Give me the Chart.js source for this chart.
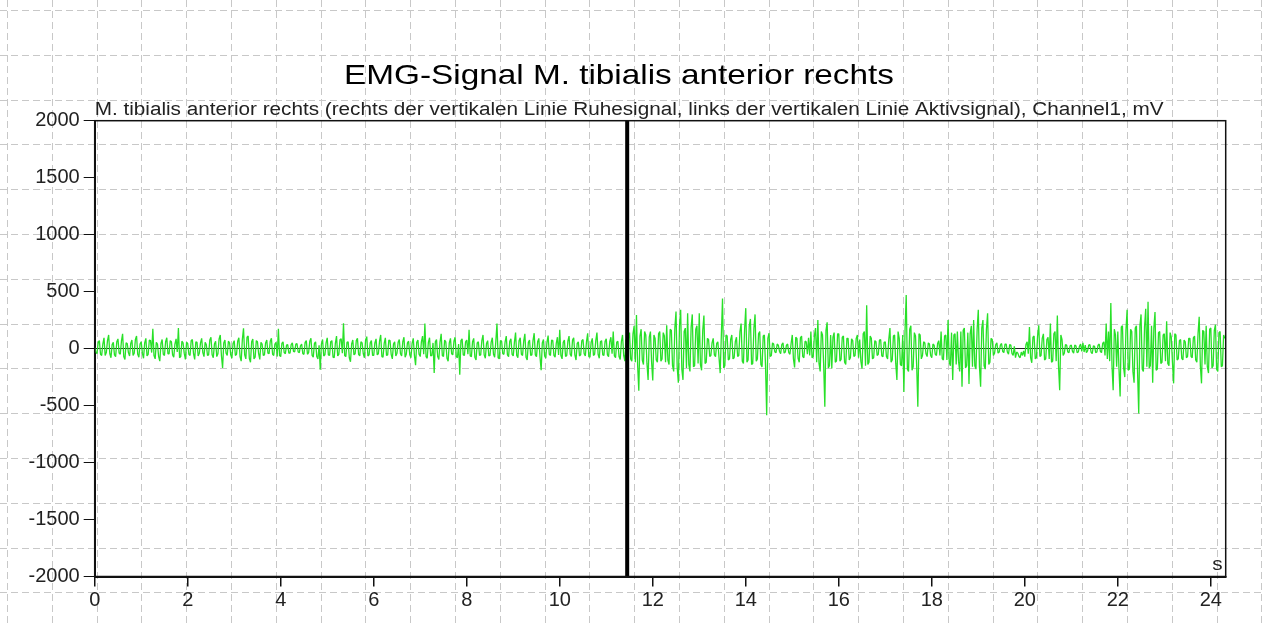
<!DOCTYPE html>
<html lang="de">
<head>
<meta charset="utf-8">
<title>EMG-Signal M. tibialis anterior rechts</title>
<script src="https://cdn.jsdelivr.net/npm/chart.js@4.4.1/dist/chart.umd.min.js"></script>
<style>
  html, body { margin: 0; padding: 0; background: #fff; }
  #wrap { width: 1264px; height: 624px; }
</style>
</head>
<body>
<div id="wrap"><canvas id="emgChart" width="1264" height="624"></canvas></div>
<script>
// Texte
const chartTitle = 'EMG-Signal M. tibialis anterior rechts';
const chartSubtitle = 'M. tibialis anterior rechts (rechts der vertikalen Linie Ruhesignal, links der vertikalen Linie Aktivsignal), Channel1, mV';
const xUnit = 's';

// Achsen
const timeMax = 24.32;
const splitTime = 11.45; // vertikale Linie
const xTicks = [0, 2, 4, 6, 8, 10, 12, 14, 16, 18, 20, 22, 24];
const yTicks = [-2000, -1500, -1000, -500, 0, 500, 1000, 1500, 2000];

const sampleStep = 0.025;
const emgValues = [
    // 0 s
    10,-30, -45,55, 70,-50, -60,40, 95,-60, -35,70, 120,-45, -80,35, 55,-55, -70,60, 85,-40, -50,65, 130,-70, -95,50, 45,-35, -65,45, 75,-60, -40,80, 110,-50, -75,40,
    // 1 s
    60,-40, -85,50, 90,-65, -50,75, 70,-35, 175,-60, -90,55, 40,-70, -110,45, 80,-50, -60,60, 95,-45, -45,70, 60,-55, -75,40, 85,-30, 180,-80, -70,65, 50,-40, -95,55,
    // 2 s
    45,-50, -60,70, 80,-45, -95,60, 55,-65, -40,50, 90,-35, -70,55, 35,-60, -55,75, 100,-55, -80,40, 65,-70, -45,85, 120,-60, -170,50, 75,-40, -60,65, 50,-55, -85,45,
    // 3 s
    70,-60, -50,65, 95,-70, -110,80, 178,-55, -90,100, 110,-85, -120,60, 85,-90, -75,70, 60,-45, -95,55, 40,-60, -55,50, 75,-40, -45,65, 90,-50, -60,40, 55,-70, 175,-60,
    // 4 s
    -70,45, 60,-35, -45,30, 35,-40, -40,35, 50,-25, -30,40, 45,-30, -35,25, 40,-45, -50,55, 70,-50, -35,65, 90,-60, -75,45, 60,-70, -90,30, -185,40, 80,-65, -55,50,
    // 5 s
    95,-55, -60,60, 70,-75, -80,45, 110,-65, -50,80, 85,-40, 222,-60, -70,55, 60,-80, -115,40, 75,-55, -45,70, 90,-50, -65,60, 50,-45, -80,75, 105,-65, -55,50, 70,-60,
    // 6 s
    -60,50, 85,-55, -45,65, 120,-70, -75,45, 95,-60, -55,75, 70,-50, -90,40, 60,-65, -40,55, 80,-45, -65,60, 100,-75, -50,50, 65,-55, -80,45, 90,-60, -145,55, 75,-50,
    // 7 s
    -70,60, 110,-50, 220,-70, -85,55, 95,-65, -60,50, -215,60, 80,-70, -95,55, 130,-60, -70,75, 60,-85, -110,50, 90,-45, -55,65, 100,-70, -80,40, -230,70, 85,-55, -60,60,
    // 8 s
    75,-50, 165,-65, -70,60, 90,-75, -100,50, 60,-60, -55,70, 120,-55, -85,45, 70,-65, -60,55, 95,-50, -75,60, 220,-80, -90,70, 65,-45, -50,60, 110,-55, -70,65, 85,-50,
    // 9 s
    -65,55, 140,-60, -80,70, 95,-50, -60,65, 130,-75, -100,55, 75,-60, -55,70, 135,-55, -70,60, 90,-70, -190,50, 80,-65, -85,55, 115,-50, -60,75, 70,-60, -75,45, 100,-55,
    // 10 s
    165,-60, -90,55, 75,-70, -60,65, 110,-50, -70,75, 95,-55, -100,45, 60,-65, -55,70, 80,-45, -65,60, 135,-70, -75,55, 90,-60, -50,70, 140,-50, -85,60, 70,-55, -60,65,
    // 11 s
    85,-55, -70,60, 100,-45, 150,-65, -80,55, 65,-70, -95,60, 120,-60, -110,80, -360,90, 140,-90, -110,130, 200,-120, 295,-150, -370,110, 170,-100, -140,150, 120,-130, -275,100, 150,-120,
    // 12 s
    -280,120, 90,-100, -120,130, 150,-110, -90,140, 110,-120, 205,-100, -140,170, 160,-150, -200,180, 325,-160, -300,200, 340,-180, -275,150, 180,-170, 310,-140, -200,190, 300,-160, -150,170, 200,-130,
    // 13 s
    310,-140, -190,160, 290,-130, -120,90, 80,-70, -60,50, 90,-55, -70,45, 60,-80, -215,120, 440,-170, -150,120, 110,-100, -90,80, 120,-90, -80,60, 100,-70, -60,150, 220,-110, -130,170,
    // 14 s
    355,-120, -100,200, 260,-140, -130,180, 300,-110, -90,130, 150,-140, -160,110, 120,-150, -585,90, 135,-70, -60,50, 40,-30, -35,40, 30,-25, -45,35, 50,-40, -30,30, 40,-35, -50,45,
    // 15 s
    120,-90, -165,100, 90,-85, -120,95, 110,-70, -80,65, 60,-50, 95,-60, 150,-80, -70,110, 180,-120, 250,-130, -200,150, 120,-140, -510,160, 230,-170, -150,120, -175,100, 140,-120, -110,130,
    // 16 s
    130,-110, -95,100, 110,-120, -140,90, 90,-100, -80,85, 70,-70, -60,90, 120,-80, 80,-110, -175,130, 150,-150, 380,-140, -120,110, 90,-90, -80,70, 60,-60, -50,75, 80,-65, -70,55,
    // 17 s
    60,-70, -90,80, 180,-120, -100,110, 120,-130, -275,150, 90,-140, -150,120, -380,160, 470,-180, -200,170, 200,-190, -160,140, 110,-150, -510,130, 120,-90, -60,60, 50,-45, -70,50, 40,-60,
    // 18 s
    -80,40, 30,-50, -60,45, 70,-60, 150,-90, -100,110, 120,-100, 250,-120, -150,140, -275,120, 130,-140, 150,-110, -200,150, -335,160, 180,-170, -150,140, -310,130, 200,-160, 250,-150, -180,170,
    // 19 s
    340,-160, -335,180, 250,-150, -180,170, 310,-140, -120,90, 80,-60, -40,35, 50,-40, -30,30, 45,-25, -35,40, 40,-30, -50,35, 30,-45, -60,20, -80,-30, -40,-70, -80,-30, -60,-20,
    // 20 s
    -70,35, 60,-45, 190,-80, -125,100, 110,-90, -80,110, 205,-70, -60,90, 130,-100, -90,80, 100,-90, 220,-120, -110,130, 150,-110, 290,-150, -365,120, 80,-60, -40,35, 30,-30, -35,25,
    // 21 s
    30,-25, -40,30, 25,-35, -30,20, 40,-25, 50,-30, 30,-35, -20,30, 35,-30, -45,25, 20,-35, -30,30, 40,-25, -35,45, 60,-60, 220,-90, 150,-110, 400,-150, -365,170, 120,-160,
    // 22 s
    150,-180, -420,190, 200,-170, -250,160, 340,-190, -180,170, 150,-200, -300,180, 200,-210, -570,200, 300,-180, -200,190, 350,-160, 410,-170, -150,200, -300,180, 320,-190, -180,140, 150,-130, -120,120,
    // 23 s
    130,-110, 240,-130, -150,140, 100,-120, -305,130, 120,-100, -90,70, 80,-85, -100,75, 60,-80, -70,90, 90,-70, -80,95, 110,-100, -120,130, 280,-150, -305,160, 150,-140, 200,-160, -215,170,
    // 24 s
    180,-170, -150,160, 210,-180, -200,140, 150,-160, -150,120, 90
];

const fontFamily = 'Arial, "Liberation Sans", sans-serif';
const signalColor = 'rgb(40, 224, 40)';

// Punkte (Zeit, Wert) fuer die lineare x-Achse
const emgPoints = emgValues.map((v, i) => ({ x: i * sampleStep, y: v }));

// Text horizontal etwas breiter zeichnen (Vorlage ist gestreckt)
function drawWideText(ctx, text, x, y, stretch, align) {
    ctx.save();
    ctx.translate(x, y);
    ctx.scale(stretch, 1);
    ctx.textAlign = align;
    ctx.fillText(text, 0, 0);
    ctx.restore();
}

// Hintergrundraster, Rahmen und Beschriftungen
const paperPlugin = {
    id: 'paper',
    beforeDraw(chart) {
        const { ctx, width, height } = chart;
        ctx.save();
        ctx.fillStyle = '#fff';
        ctx.fillRect(0, 0, width, height);
        ctx.strokeStyle = '#c8c8c8';
        ctx.lineWidth = 1;
        ctx.setLineDash([7, 4]);
        ctx.beginPath();
        for (let x = 7; x < width; x += 44.8) {
            const px = Math.round(x) + 0.5;
            ctx.moveTo(px, 0);
            ctx.lineTo(px, height);
        }
        for (let y = 10; y < height; y += 44.8) {
            const py = Math.round(y) + 0.5;
            ctx.moveTo(0, py);
            ctx.lineTo(width, py);
        }
        ctx.stroke();
        ctx.restore();
    },
    afterDraw(chart) {
        const { ctx, chartArea: a } = chart;
        ctx.save();
        ctx.strokeStyle = '#111';
        ctx.lineWidth = 1.5;
        ctx.strokeRect(a.left, a.top, a.right - a.left, a.bottom - a.top);

        ctx.textBaseline = 'alphabetic';
        ctx.fillStyle = '#000';
        ctx.font = `28px ${fontFamily}`;
        drawWideText(ctx, chartTitle, 619, 84, 1.19, 'center');

        ctx.fillStyle = '#222';
        ctx.font = `18px ${fontFamily}`;
        drawWideText(ctx, chartSubtitle, a.left, a.top - 6, 1.15, 'left');
        drawWideText(ctx, xUnit, a.right - 3, a.bottom - 7, 1.15, 'right');
        ctx.restore();
    }
};

const tickFont = { family: fontFamily, size: 20 };

new Chart(document.getElementById('emgChart'), {
    type: 'line',
    data: {
        datasets: [
            {
                label: 'Grenze',
                data: [{ x: splitTime, y: -2000 }, { x: splitTime, y: 2000 }],
                borderColor: '#000',
                borderWidth: 4,
                pointRadius: 0,
                order: 0
            },
            {
                label: 'Channel1',
                data: emgPoints,
                borderColor: signalColor,
                borderWidth: 1.3,
                borderJoinStyle: 'bevel',
                pointRadius: 0,
                tension: 0,
                order: 1
            }
        ]
    },
    options: {
        responsive: false,
        animation: false,
        events: [],
        layout: { padding: { left: 0, top: 120.7, right: 38.3, bottom: 0 } },
        plugins: {
            legend: { display: false },
            tooltip: { enabled: false },
            title: { display: false }
        },
        scales: {
            x: {
                type: 'linear',
                min: 0,
                max: timeMax,
                afterFit(scale) { scale.height = 47.5; },
                afterBuildTicks(scale) { scale.ticks = xTicks.map(v => ({ value: v })); },
                ticks: { font: tickFont, color: '#222', padding: 2, maxRotation: 0, autoSkip: false, callback: v => String(v) },
                grid: { drawOnChartArea: false, drawTicks: true, tickLength: 10, color: '#111', lineWidth: 1.5 },
                border: { display: true, color: '#111', width: 2 }
            },
            y: {
                min: -2000,
                max: 2000,
                afterFit(scale) { scale.width = 94.7; },
                afterBuildTicks(scale) { scale.ticks = yTicks.map(v => ({ value: v })); },
                ticks: { font: tickFont, color: '#222', padding: 4, autoSkip: false, callback: v => String(v) },
                grid: {
                    color: ctx => (ctx.tick && ctx.tick.value === 0) ? '#222' : 'rgba(0,0,0,0)',
                    tickColor: '#111',
                    tickLength: 11,
                    lineWidth: 1
                },
                border: { display: true, color: '#111', width: 2 }
            }
        }
    },
    plugins: [paperPlugin]
});
</script>
</body>
</html>
